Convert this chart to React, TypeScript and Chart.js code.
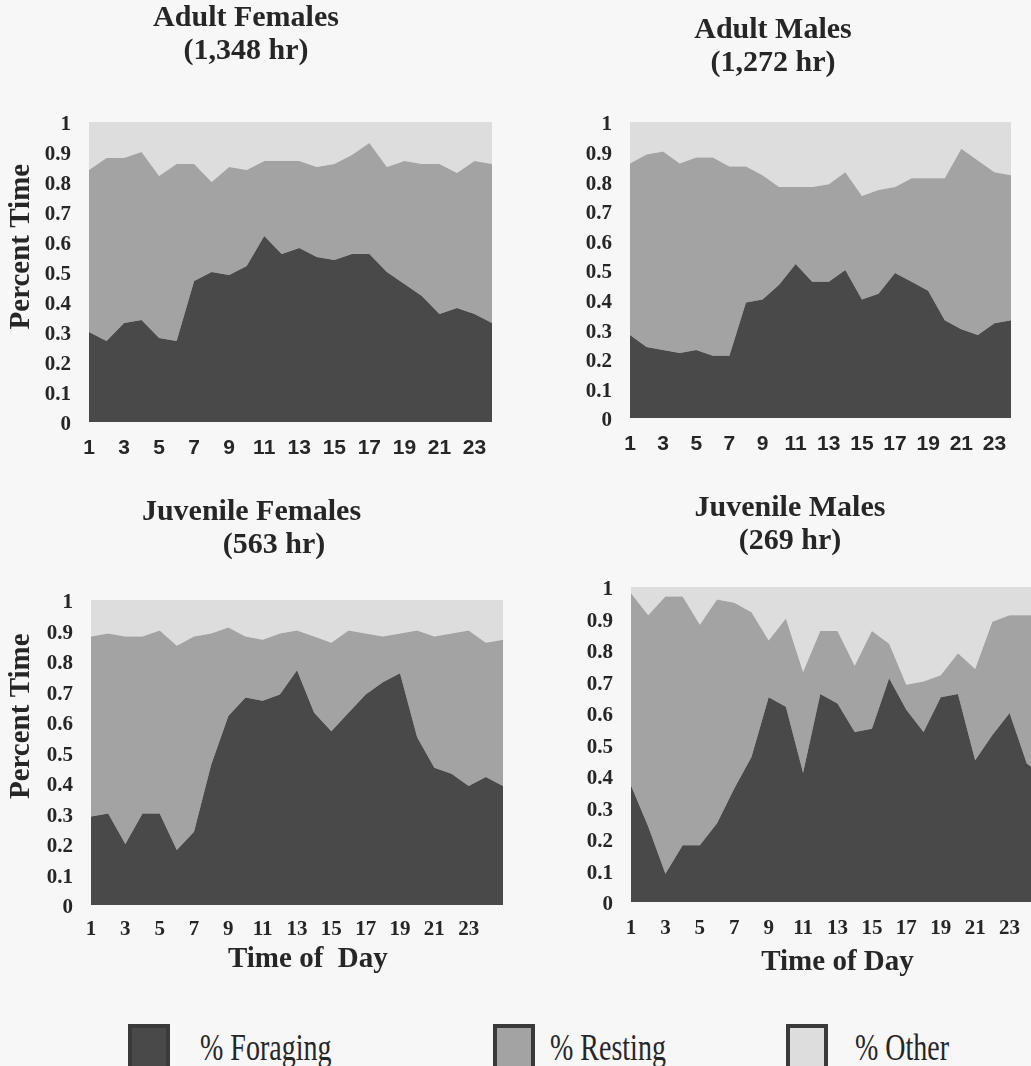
import React, { useEffect, useRef } from "react";
import { Chart, registerables } from "chart.js";

Chart.register(...registerables);

// ---------------- DATA ----------------
const hours24 = ["1","2","3","4","5","6","7","8","9","10","11","12","13","14","15","16","17","18","19","20","21","22","23","24"];
const hours25 = ["1","2","3","4","5","6","7","8","9","10","11","12","13","14","15","16","17","18","19","20","21","22","23","24","25"];

const adultFemaleForaging = [0.30,0.27,0.33,0.34,0.28,0.27,0.47,0.50,0.49,0.52,0.62,0.56,0.58,0.55,0.54,0.56,0.56,0.50,0.46,0.42,0.36,0.38,0.36,0.33];
const adultFemaleResting  = [0.54,0.61,0.55,0.56,0.54,0.59,0.39,0.30,0.36,0.32,0.25,0.31,0.29,0.30,0.32,0.33,0.37,0.35,0.41,0.44,0.50,0.45,0.51,0.53];
const adultFemaleOther    = [0.16,0.12,0.12,0.10,0.18,0.14,0.14,0.20,0.15,0.16,0.13,0.13,0.13,0.15,0.14,0.11,0.07,0.15,0.13,0.14,0.14,0.17,0.13,0.14];

const adultMaleForaging = [0.28,0.24,0.23,0.22,0.23,0.21,0.21,0.39,0.40,0.45,0.52,0.46,0.46,0.50,0.40,0.42,0.49,0.46,0.43,0.33,0.30,0.28,0.32,0.33];
const adultMaleResting  = [0.58,0.65,0.67,0.64,0.65,0.67,0.64,0.46,0.42,0.33,0.26,0.32,0.33,0.33,0.35,0.35,0.29,0.35,0.38,0.48,0.61,0.59,0.51,0.49];
const adultMaleOther    = [0.14,0.11,0.10,0.14,0.12,0.12,0.15,0.15,0.18,0.22,0.22,0.22,0.21,0.17,0.25,0.23,0.22,0.19,0.19,0.19,0.09,0.13,0.17,0.18];

const juvFemaleForaging = [0.29,0.30,0.20,0.30,0.30,0.18,0.24,0.46,0.62,0.68,0.67,0.69,0.77,0.63,0.57,0.63,0.69,0.73,0.76,0.55,0.45,0.43,0.39,0.42,0.39];
const juvFemaleResting  = [0.59,0.59,0.68,0.58,0.60,0.67,0.64,0.43,0.29,0.20,0.20,0.20,0.13,0.25,0.29,0.27,0.20,0.15,0.13,0.35,0.43,0.46,0.51,0.44,0.48];
const juvFemaleOther    = [0.12,0.11,0.12,0.12,0.10,0.15,0.12,0.11,0.09,0.12,0.13,0.11,0.10,0.12,0.14,0.10,0.11,0.12,0.11,0.10,0.12,0.11,0.10,0.14,0.13];

const juvMaleForaging = [0.37,0.24,0.09,0.18,0.18,0.25,0.36,0.46,0.65,0.62,0.41,0.66,0.63,0.54,0.55,0.71,0.61,0.54,0.65,0.66,0.45,0.53,0.60,0.44,0.40];
const juvMaleResting  = [0.61,0.67,0.88,0.79,0.70,0.71,0.59,0.46,0.18,0.28,0.32,0.20,0.23,0.21,0.31,0.11,0.08,0.16,0.07,0.13,0.29,0.36,0.31,0.47,0.51];
const juvMaleOther    = [0.02,0.09,0.03,0.03,0.12,0.04,0.05,0.08,0.17,0.10,0.27,0.14,0.14,0.25,0.14,0.18,0.31,0.30,0.28,0.21,0.26,0.11,0.09,0.09,0.09];

const seriesNames = ["% Foraging", "% Resting", "% Other"];

// ---------------- STYLE ----------------
const SERIF = "'Liberation Serif', 'Times New Roman', serif";
const SANS = "'Liberation Sans', Arial, sans-serif";
const TEXT = "#262626";
const BG = "#f7f7f7";
const COLORS = ["#494949", "#a3a3a3", "#dddddd"];

type PanelSpec = {
  title: string[];
  labels: string[];
  series: number[][];
  box: { left: number; top: number; width: number; height: number };
  yAxisWidth: number;
  xAxisHeight: number;
  titlePad: { top: number; bottom: number };
  yTitle: string | null;
  xTitle: string | null;
  xTitlePadBottom: number;
  xTickFont: { family: string; size: number; weight: string };
  xTickPad: number;
};

const panels: PanelSpec[] = [
  {
    title: ["Adult Females", "(1,348 hr)"],
    labels: hours24,
    series: [adultFemaleForaging, adultFemaleResting, adultFemaleOther],
    box: { left: 0, top: 0, width: 492, height: 460 },
    yAxisWidth: 89,
    xAxisHeight: 38,
    titlePad: { top: 1.5, bottom: 54.5 },
    yTitle: "       Percent Time",
    xTitle: null,
    xTitlePadBottom: 0,
    xTickFont: { family: SANS, size: 21, weight: "bold" },
    xTickPad: 13.5,
  },
  {
    title: ["Adult Males", "(1,272 hr)"],
    labels: hours24,
    series: [adultMaleForaging, adultMaleResting, adultMaleOther],
    box: { left: 535, top: 0, width: 476, height: 460 },
    yAxisWidth: 95,
    xAxisHeight: 42,
    titlePad: { top: 13.5, bottom: 42.5 },
    yTitle: null,
    xTitle: null,
    xTitlePadBottom: 0,
    xTickFont: { family: SANS, size: 21, weight: "bold" },
    xTickPad: 13.5,
  },
  {
    title: ["Juvenile Females", "      (563 hr)"],
    labels: hours25,
    series: [juvFemaleForaging, juvFemaleResting, juvFemaleOther],
    box: { left: 0, top: 490, width: 503, height: 500 },
    yAxisWidth: 91,
    xAxisHeight: 85,
    titlePad: { top: 5.5, bottom: 38.5 },
    yTitle: "          Percent Time",
    xTitle: "   Time of  Day",
    xTitlePadBottom: 15.5,
    xTickFont: { family: SERIF, size: 21, weight: "bold" },
    xTickPad: 12,
  },
  {
    title: ["Juvenile Males", "(269 hr)"],
    labels: hours25,
    series: [juvMaleForaging, juvMaleResting, juvMaleOther],
    box: { left: 536, top: 490, width: 508, height: 500 },
    yAxisWidth: 95,
    xAxisHeight: 88,
    titlePad: { top: 1.5, bottom: 29.5 },
    yTitle: null,
    xTitle: "Time of Day",
    xTitlePadBottom: 12.5,
    xTickFont: { family: SERIF, size: 21, weight: "bold" },
    xTickPad: 14,
  },
];

function PanelChart({ spec }: { spec: PanelSpec }) {
  const ref = useRef<HTMLCanvasElement | null>(null);
  useEffect(() => {
    if (!ref.current) return;
    const chart = new Chart(ref.current, {
      type: "line",
      data: {
        labels: spec.labels,
        datasets: spec.series.map((d, i) => ({
          label: seriesNames[i],
          data: d,
          backgroundColor: COLORS[i],
          borderColor: COLORS[i],
          borderWidth: 0,
          pointRadius: 0,
          tension: 0,
          fill: i === 0 ? "origin" : "-1",
        })),
      },
      options: {
        animation: false,
        responsive: false,
        devicePixelRatio: 1,
        events: [],
        layout: { padding: 0 },
        plugins: {
          legend: { display: false },
          tooltip: { enabled: false },
          title: {
            display: true,
            text: spec.title,
            color: TEXT,
            font: { family: SERIF, size: 30, weight: "bold", lineHeight: 1.1 },
            padding: spec.titlePad,
          },
        },
        scales: {
          x: {
            type: "category",
            offset: false,
            grid: { display: false, drawTicks: false },
            border: { display: false },
            ticks: {
              autoSkip: false,
              maxRotation: 0,
              minRotation: 0,
              padding: spec.xTickPad,
              color: TEXT,
              font: spec.xTickFont as any,
              callback: function (this: any, value: any, index: number) {
                const lbl = this.getLabelForValue(value);
                return index % 2 === 0 && Number(lbl) <= 23 ? lbl : null;
              },
            },
            title: {
              display: !!spec.xTitle,
              text: spec.xTitle || "",
              color: TEXT,
              font: { family: SERIF, size: 29, weight: "bold", lineHeight: 1.0 },
              padding: { top: 0, bottom: spec.xTitlePadBottom },
            },
            afterFit: (scale: any) => {
              scale.height = spec.xAxisHeight;
              scale.paddingLeft = 0;
              scale.paddingRight = 0;
            },
          },
          y: {
            stacked: true,
            min: 0,
            max: 1,
            grid: { display: false, drawTicks: false },
            border: { display: false },
            ticks: {
              stepSize: 0.1,
              padding: 18,
              labelOffset: 3,
              color: TEXT,
              font: { family: SERIF, size: 21, weight: "bold" },
              callback: (value: any) => {
                const v = Math.round(Number(value) * 10) / 10;
                return v === 0 || v === 1 ? String(v) : v.toFixed(1);
              },
            },
            title: {
              display: !!spec.yTitle,
              text: spec.yTitle || "",
              color: TEXT,
              font: { family: SERIF, size: 29, weight: "bold", lineHeight: 1.0 },
              padding: { top: 7.5, bottom: 0 },
            },
            afterFit: (scale: any) => {
              scale.width = spec.yAxisWidth;
            },
          },
        },
      },
    });
    return () => chart.destroy();
  }, [spec]);
  return (
    <canvas
      ref={ref}
      width={spec.box.width}
      height={spec.box.height}
      style={{
        position: "absolute",
        left: spec.box.left,
        top: spec.box.top,
        width: spec.box.width,
        height: spec.box.height,
      }}
    />
  );
}

const legendItems = [
  { name: seriesNames[0], color: COLORS[0], boxLeft: 128, textLeft: 200, border: "#3a3a3a" },
  { name: seriesNames[1], color: COLORS[1], boxLeft: 493, textLeft: 550, border: "#3a3a3a" },
  { name: seriesNames[2], color: COLORS[2], boxLeft: 786, textLeft: 855, border: "#3a3a3a" },
];

export default function App() {
  return (
    <div
      style={{
        position: "absolute",
        left: 0,
        top: 0,
        width: 1031,
        height: 1066,
        overflow: "hidden",
        background: BG,
      }}
    >
      {panels.map((p, i) => (
        <PanelChart key={i} spec={p} />
      ))}
      {legendItems.map((it, i) => (
        <React.Fragment key={i}>
          <div
            style={{
              position: "absolute",
              left: it.boxLeft,
              top: 1024,
              width: 42,
              height: 46,
              boxSizing: "border-box",
              background: it.color,
              border: `4px solid ${it.border}`,
            }}
          />
          <div
            style={{
              position: "absolute",
              left: it.textLeft,
              top: 1034,
              height: 28,
              lineHeight: "28px",
              fontFamily: SERIF,
              fontSize: 28,
              color: TEXT,
              whiteSpace: "nowrap",
              transform: "scaleY(1.35)",
              transformOrigin: "left center",
            }}
          >
            {it.name}
          </div>
        </React.Fragment>
      ))}
    </div>
  );
}
